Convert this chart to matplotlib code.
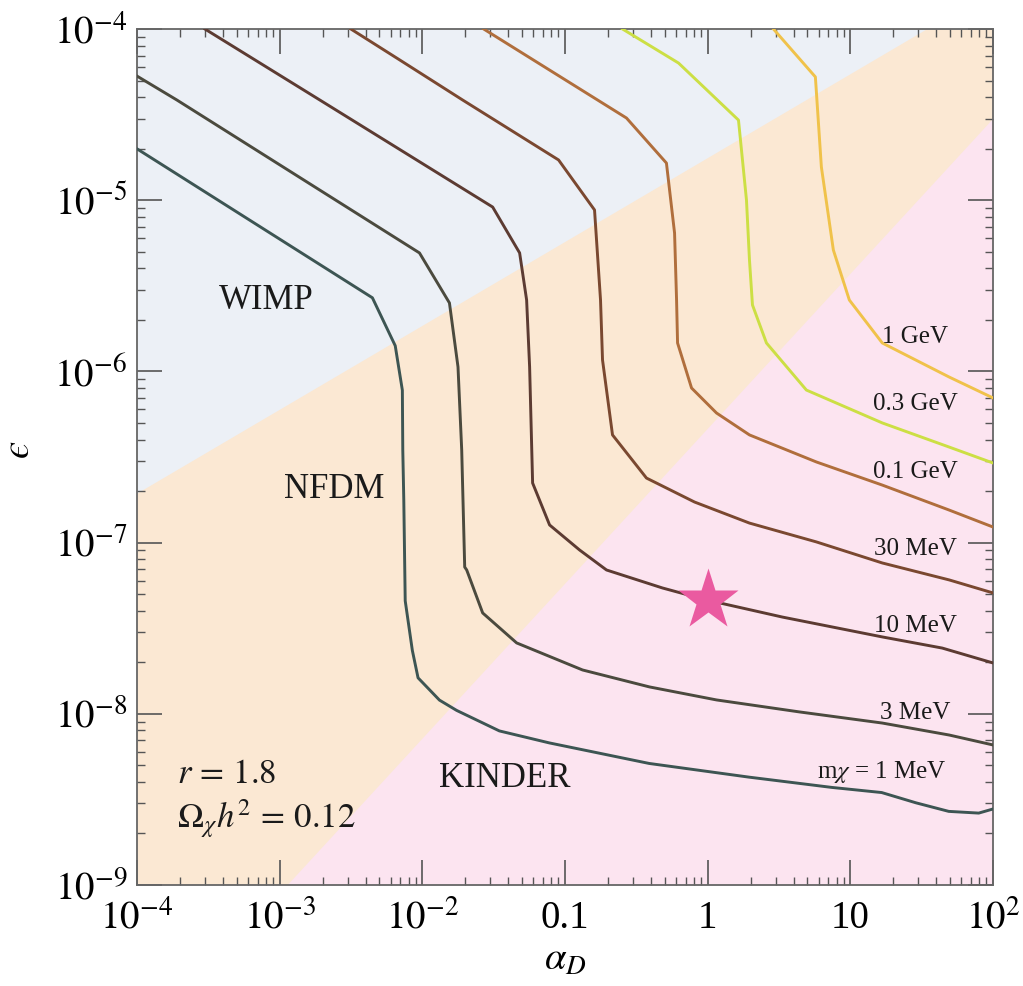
import numpy as np
import matplotlib
matplotlib.use("Agg")
import matplotlib.pyplot as plt
from matplotlib.ticker import FixedLocator, LogLocator, NullFormatter

plt.rcParams["font.family"] = ["Liberation Serif", "DejaVu Serif"]
plt.rcParams["mathtext.fontset"] = "stix"

# ---- relic-abundance contours (log10 alpha_D, log10 epsilon) ----
la_1MeV = [-4.0, -2.35, -2.19, -2.14, -2.137, -2.13, -2.12, -2.07, -2.03, -1.88, -1.76,
           -1.46, -1.11, -0.41, 0.29, 0.87, 1.22, 1.46, 1.69, 1.90, 2.0]
le_1MeV = [-4.70, -5.57, -5.85, -6.11, -6.46, -6.75, -7.34, -7.63, -7.79, -7.92, -7.98,
           -8.10, -8.17, -8.29, -8.37, -8.43, -8.46, -8.52, -8.57, -8.58, -8.556]

la_3MeV = [-4.0, -3.72, -2.02, -1.81, -1.75, -1.724, -1.703, -1.689, -1.577, -1.339,
           -0.877, -0.408, 0.062, 0.643, 1.224, 1.693, 2.0]
le_3MeV = [-4.275, -4.415, -5.308, -5.60, -5.974, -6.459, -7.143, -7.16, -7.411, -7.586,
           -7.744, -7.843, -7.919, -7.989, -8.054, -8.124, -8.182]

la_10MeV = [-3.524, -2.718, -1.507, -1.318, -1.269, -1.248, -1.227, -1.108, -0.898,
            -0.709, -0.317, -0.008, 0.524, 1.224, 1.644, 2.0]
le_10MeV = [-4.0, -4.415, -5.040, -5.308, -5.583, -5.974, -6.652, -6.897, -7.043,
            -7.160, -7.265, -7.335, -7.435, -7.551, -7.616, -7.703]

la_30MeV = [-2.501, -2.158, -1.717, -1.045, -0.793, -0.751, -0.737, -0.667, -0.429,
            -0.092, 0.293, 0.762, 1.224, 1.693, 2.0]
le_30MeV = [-4.0, -4.181, -4.415, -4.765, -5.057, -5.583, -5.933, -6.371, -6.623,
            -6.763, -6.886, -6.996, -7.119, -7.218, -7.294]

la_100MeV = [-1.570, -0.569, -0.289, -0.232, -0.218, -0.211, -0.113, 0.062, 0.293,
             0.762, 1.224, 1.693, 2.0]
le_100MeV = [-4.0, -4.520, -4.783, -5.192, -5.583, -5.834, -6.097, -6.243, -6.371,
             -6.529, -6.664, -6.810, -6.909]

la_300MeV = [-0.597, -0.204, 0.216, 0.272, 0.293, 0.314, 0.412, 0.692, 1.224, 1.693, 2.0]
le_300MeV = [-4.0, -4.199, -4.532, -4.999, -5.349, -5.612, -5.834, -6.109, -6.301,
             -6.442, -6.535]

la_1GeV = [0.461, 0.755, 0.797, 0.881, 0.993, 1.224, 1.693, 2.0]
le_1GeV = [-4.0, -4.280, -4.806, -5.291, -5.583, -5.834, -6.033, -6.155]

curve_labels = ["m$\\chi$ = 1 MeV", "3 MeV", "10 MeV", "30 MeV", "0.1 GeV", "0.3 GeV", "1 GeV"]

# ---- regime boundaries (log10 alpha_D, log10 epsilon) ----
wimp_edge_la = [-4.0, 2.0]
wimp_edge_le = [-6.71, -3.77]
kinder_edge_la = [-2.95, 2.0]
kinder_edge_le = [-9.0, -4.52]

region_names = ["WIMP", "NFDM", "KINDER"]

# benchmark point
star_alpha = 1.0
star_eps = 10 ** -7.335

x_ticks = [1e-4, 1e-3, 1e-2, 1e-1, 1, 10, 100]
x_ticklabels = [r"$10^{-4}$", r"$10^{-3}$", r"$10^{-2}$", "0.1", "1", "10", r"$10^{2}$"]
y_ticks = [1e-9, 1e-8, 1e-7, 1e-6, 1e-5, 1e-4]
y_ticklabels = [r"$10^{-9}$", r"$10^{-8}$", r"$10^{-7}$", r"$10^{-6}$", r"$10^{-5}$", r"$10^{-4}$"]

# ---- figure ----
W, H = 1023, 986
fig = plt.figure(figsize=(W / 100, H / 100), dpi=100)
ax = fig.add_axes([137 / W, 1 - 885 / H, 856 / W, 856 / H])
ax.set_xscale("log")
ax.set_yscale("log")
ax.set_xlim(1e-4, 1e2)
ax.set_ylim(1e-9, 1e-4)

c_wimp = "#ECF0F6"
c_nfdm = "#FBE8D3"
c_kinder = "#FCE4F0"

ax.set_facecolor(c_nfdm)
xw = np.power(10.0, wimp_edge_la)
yw = np.power(10.0, wimp_edge_le)
ax.fill_between(xw, yw, 1e-4, color=c_wimp, lw=0, zorder=0)
xk = np.power(10.0, kinder_edge_la)
yk = np.power(10.0, kinder_edge_le)
ax.fill_between(xk, 1e-9, yk, color=c_kinder, lw=0, zorder=0)

curves = [
    (la_1MeV, le_1MeV, "#3D5553"),
    (la_3MeV, le_3MeV, "#4B4A3E"),
    (la_10MeV, le_10MeV, "#5C3B32"),
    (la_30MeV, le_30MeV, "#7A4830"),
    (la_100MeV, le_100MeV, "#B06E3C"),
    (la_300MeV, le_300MeV, "#CCDF44"),
    (la_1GeV, le_1GeV, "#F0C24A"),
]
for la, le, col in curves:
    ax.plot(np.power(10.0, la), np.power(10.0, le), color=col, lw=2.1,
            solid_joinstyle="round", zorder=3)

ax.plot(star_alpha, star_eps, marker="*", ms=46, color="#EA5AA0", mec="none", zorder=5)

# curve annotations
label_pos = [(0.870, 0.132), (0.909, 0.201), (0.909, 0.303), (0.909, 0.393),
             (0.909, 0.482), (0.909, 0.562), (0.909, 0.640)]
for txt, (fx, fy) in zip(curve_labels, label_pos):
    ax.text(fx, fy, txt, transform=ax.transAxes, ha="center", va="center",
            fontsize=18, color="#1a1a1a", zorder=6)

region_pos = [(0.151, 0.683), (0.230, 0.462), (0.430, 0.124)]
for txt, (fx, fy) in zip(region_names, region_pos):
    ax.text(fx, fy, txt, transform=ax.transAxes, ha="center", va="center",
            fontsize=25, color="#1a1a1a", zorder=6)

ax.text(0.047, 0.119, r"$r\,=\,1.8$", transform=ax.transAxes, ha="left",
        va="baseline", fontsize=25, color="#1a1a1a", zorder=6)
ax.text(0.047, 0.0666, r"$\Omega_\chi h^2\,=\,0.12$", transform=ax.transAxes, ha="left",
        va="baseline", fontsize=25, color="#1a1a1a", zorder=6)

# axes styling
ax.xaxis.set_major_locator(FixedLocator(x_ticks))
ax.set_xticklabels(x_ticklabels)
ax.yaxis.set_major_locator(FixedLocator(y_ticks))
ax.set_yticklabels(y_ticklabels)
ax.xaxis.set_minor_locator(LogLocator(base=10, subs=np.arange(2, 10), numticks=20))
ax.yaxis.set_minor_locator(LogLocator(base=10, subs=np.arange(2, 10), numticks=20))
ax.xaxis.set_minor_formatter(NullFormatter())
ax.yaxis.set_minor_formatter(NullFormatter())
ax.tick_params(which="both", direction="in", top=True, right=True, color="#555555")
ax.tick_params(which="major", length=18, width=1.2, labelsize=28)
ax.tick_params(axis="x", which="major", pad=11)
ax.tick_params(axis="y", which="major", pad=7)
ax.tick_params(which="minor", length=6, width=1.0)
for s in ax.spines.values():
    s.set_color("#666666")
    s.set_linewidth(1.3)

ax.set_xlabel(r"$\alpha_D$", fontsize=28)
ax.xaxis.label.set_va("center")
ax.xaxis.set_label_coords(0.5, -0.088)
ax.set_ylabel("$\u03f5$", fontsize=28, rotation=90)
ax.yaxis.label.set_va("center")
ax.yaxis.set_label_coords(-0.137, 0.508)

fig.savefig("out.png", dpi=100, facecolor="white")
